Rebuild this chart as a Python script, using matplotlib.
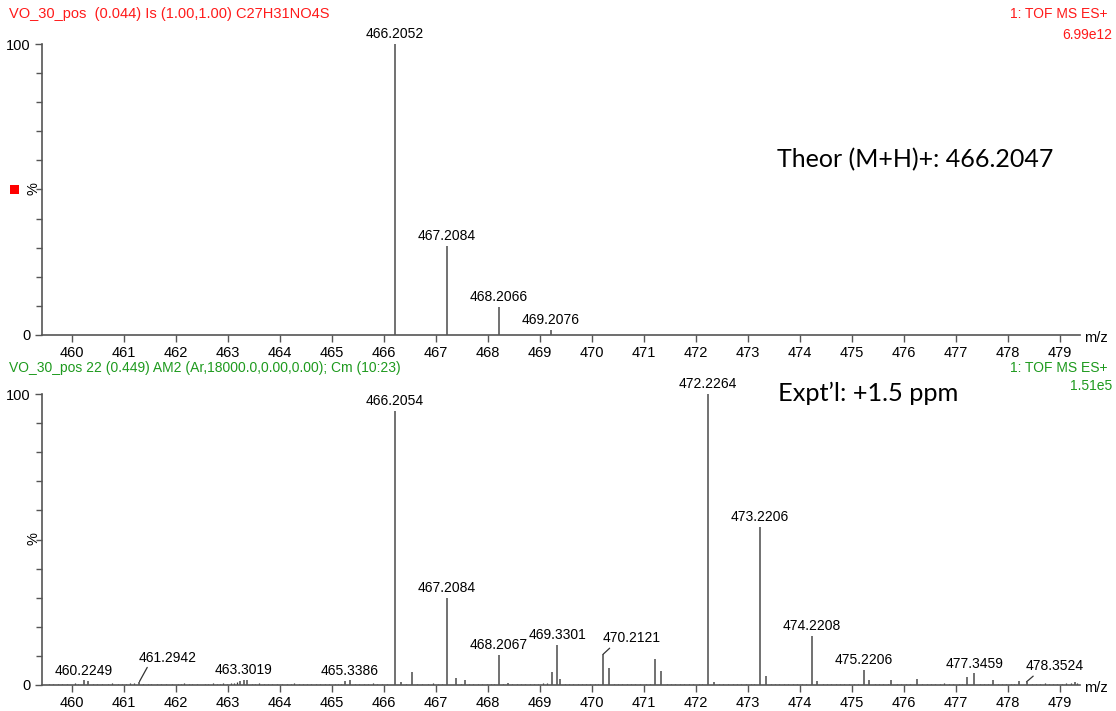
import matplotlib.pyplot as plt

plt.rcParams['font.family'] = ['Liberation Sans', 'DejaVu Sans']

# theoretical isotope pattern
theor_mz = [466.2052, 467.2084, 468.2066, 469.2076]
theor_int = [100.0, 30.6, 9.6, 1.7]

# measured spectrum, labelled centroids
expt_mz = [460.2249, 461.2942, 463.3019, 465.3386, 466.2054, 467.2084, 468.2067,
           469.3301, 470.2121, 472.2264, 473.2206, 474.2208, 475.2206, 477.3459, 478.3524]
expt_int = [1.6, 1.2, 1.8, 1.6, 94.3, 29.9, 10.3, 13.7, 10.6, 100.0, 54.3, 16.8, 5.2, 4.0, 1.1]

# measured spectrum, unlabelled centroids
minor_mz = [460.30, 463.23, 463.37, 465.24, 466.33, 466.54, 467.38, 467.55, 468.38, 469.23,
            469.39, 470.33, 471.21, 471.32, 472.35, 473.35, 474.33, 475.32, 475.75, 476.25,
            477.20, 477.70, 478.20, 479.28]
minor_int = [1.5, 1.5, 1.6, 1.3, 1.1, 4.3, 2.5, 1.7, 0.8, 4.5,
             2.2, 5.8, 9.0, 4.8, 1.1, 3.0, 1.5, 1.8, 1.8, 2.0,
             2.7, 1.6, 1.4, 1.0]

# baseline noise (m/z, %)
grass = [
    (459.55, 0.4), (459.63, 0.3), (459.72, 0.5), (459.80, 0.3), (459.91, 0.4), (460.05, 0.6),
    (460.12, 0.3), (460.41, 0.4), (460.48, 0.3), (460.57, 0.5), (460.69, 0.3), (460.76, 0.8),
    (460.88, 0.4), (460.95, 0.3), (461.04, 0.4), (461.11, 0.6), (461.19, 0.8), (461.37, 0.4),
    (461.45, 0.3), (461.52, 0.5), (461.63, 0.3), (461.71, 0.4), (461.80, 0.3), (461.92, 0.5),
    (462.03, 0.4), (462.09, 0.3), (462.16, 0.6), (462.24, 0.5), (462.31, 0.4), (462.40, 0.3),
    (462.55, 0.5), (462.61, 0.4), (462.70, 0.6), (462.78, 0.5), (462.84, 0.4), (462.91, 0.6),
    (462.97, 0.5), (463.05, 0.8), (463.12, 0.6), (463.17, 0.9), (463.45, 0.5), (463.52, 0.4),
    (463.60, 0.6), (463.68, 0.4), (463.77, 0.3), (463.85, 0.5), (463.93, 0.4), (464.04, 0.3),
    (464.13, 0.5), (464.21, 0.4), (464.27, 0.8), (464.36, 0.4), (464.44, 0.5), (464.51, 0.3),
    (464.60, 0.4), (464.69, 0.3), (464.77, 0.4), (464.86, 0.5), (464.94, 0.3), (465.05, 0.4),
    (465.12, 0.3), (465.17, 0.5), (465.44, 0.4), (465.52, 0.3), (465.61, 0.4), (465.69, 0.5),
    (465.78, 0.6), (465.86, 0.3), (465.95, 0.4), (466.06, 0.3), (466.42, 0.5), (466.64, 0.4),
    (466.72, 0.3), (466.85, 0.4), (466.93, 0.6), (467.03, 0.4), (467.12, 0.3), (467.47, 0.5),
    (467.63, 0.4), (467.71, 0.3), (467.80, 0.5), (467.88, 0.4), (467.97, 0.3), (468.05, 0.4),
    (468.12, 0.3), (468.29, 0.4), (468.46, 0.5), (468.55, 0.4), (468.63, 0.3), (468.71, 0.4),
    (468.80, 0.5), (468.88, 0.3), (468.95, 0.4), (469.06, 0.6), (469.13, 0.8), (469.47, 0.4),
    (469.55, 0.3), (469.63, 0.4), (469.72, 0.3), (469.80, 0.5), (469.88, 0.4), (469.96, 0.3),
    (470.05, 0.4), (470.12, 0.3), (470.42, 0.5), (470.50, 0.3), (470.58, 0.4), (470.66, 0.3),
    (470.75, 0.4), (470.83, 0.5), (470.92, 0.3), (471.04, 0.4), (471.12, 0.3), (471.44, 0.4),
    (471.52, 0.5), (471.60, 0.3), (471.69, 0.4), (471.77, 0.3), (471.86, 0.5), (471.94, 0.4),
    (472.05, 0.3), (472.12, 0.4), (472.44, 0.5), (472.52, 0.3), (472.61, 0.4), (472.70, 0.3),
    (472.78, 0.5), (472.86, 0.4), (472.95, 0.3), (473.05, 0.4), (473.12, 0.3), (473.44, 0.4),
    (473.52, 0.3), (473.60, 0.5), (473.69, 0.3), (473.77, 0.4), (473.86, 0.3), (473.94, 0.4),
    (474.04, 0.3), (474.12, 0.4), (474.43, 0.5), (474.51, 0.3), (474.60, 0.4), (474.68, 0.3),
    (474.77, 0.5), (474.85, 0.4), (474.94, 0.3), (475.04, 0.4), (475.12, 0.3), (475.43, 0.5),
    (475.52, 0.3), (475.60, 0.4), (475.68, 0.3), (475.86, 0.4), (475.94, 0.3), (476.04, 0.4),
    (476.12, 0.3), (476.35, 0.5), (476.44, 0.3), (476.52, 0.4), (476.60, 0.3), (476.68, 0.4),
    (476.77, 0.8), (476.86, 0.4), (476.94, 0.3), (477.05, 0.4), (477.12, 0.3), (477.45, 0.5),
    (477.53, 0.4), (477.61, 0.3), (477.80, 0.4), (477.88, 0.3), (477.96, 0.5), (478.05, 0.3),
    (478.12, 0.4), (478.45, 0.5), (478.53, 0.3), (478.61, 0.4), (478.70, 0.8), (478.78, 0.4),
    (478.86, 0.3), (478.94, 0.5), (479.04, 0.4), (479.12, 0.6), (479.20, 0.8), (479.33, 0.6),
]

# labels that sit beside their peak, joined by a leader line (label x, label y)
leader_pos = {461.2942: (461.83, 7.0), 470.2121: (470.75, 13.6), 478.3524: (478.90, 4.0)}

RED = '#ff1a1a'
GREEN = '#1e9a1e'
STICK = '#4a4a4a'
XMIN, XMAX = 459.42, 479.38

fig = plt.figure(figsize=(11.16, 7.11), dpi=100)
W, H = 1116, 711
ax_top = fig.add_axes([42 / W, 1 - 335 / H, (1080 - 42) / W, (335 - 44) / H])
ax_bot = fig.add_axes([42 / W, 1 - 685 / H, (1080 - 42) / W, (685 - 394) / H])


def style_axis(ax, y_mid):
    ax.set_xlim(XMIN, XMAX)
    ax.set_ylim(0, 100)
    for s in ['top', 'right']:
        ax.spines[s].set_visible(False)
    for s in ['left', 'bottom']:
        ax.spines[s].set_color('#555555')
        ax.spines[s].set_linewidth(1.2)
    ax.set_xticks(range(460, 480))
    ax.set_yticks([0, 100])
    ax.set_yticks(range(10, 100, 10), minor=True)
    ax.tick_params(axis='both', which='major', direction='out', length=5, width=1,
                   color='#555555', labelsize=10.5, pad=3)
    ax.tick_params(axis='y', which='minor', direction='out', length=4, width=1, color='#555555')
    ax.text(1.004, -0.012, 'm/z', transform=ax.transAxes, fontsize=10.5, ha='left', va='center')
    fig.text(33 / W, 1 - y_mid / H, '%', rotation=90, fontsize=10.5, ha='center', va='center')


def label_peak(ax, mz, inten):
    if mz in leader_pos:
        lx, ly = leader_pos[mz]
        ax.annotate(f'{mz:.4f}', xy=(mz, inten), xytext=(lx, ly), ha='center', va='bottom',
                    fontsize=10, annotation_clip=False,
                    arrowprops=dict(arrowstyle='-', color='#333333', lw=0.9,
                                    shrinkA=0, shrinkB=0,
                                    relpos=(0.18, 0.0)))
    else:
        ax.annotate(f'{mz:.4f}', xy=(mz, inten), xytext=(0, 2), textcoords='offset points',
                    ha='center', va='bottom', fontsize=10, annotation_clip=False)


# top: theoretical isotope pattern
style_axis(ax_top, 189)
ax_top.vlines(theor_mz, 0, theor_int, color=STICK, lw=1.1)
for mz, inten in zip(theor_mz, theor_int):
    label_peak(ax_top, mz, inten)

# bottom: measured spectrum
style_axis(ax_bot, 539)
gm = [g[0] for g in grass]
gi = [g[1] for g in grass]
ax_bot.vlines(gm, 0, gi, color='#333333', lw=0.9)
ax_bot.vlines(minor_mz, 0, minor_int, color=STICK, lw=1.1)
ax_bot.vlines(expt_mz, 0, expt_int, color=STICK, lw=1.1)
for mz, inten in zip(expt_mz, expt_int):
    label_peak(ax_bot, mz, inten)

# header lines
fig.text(9 / W, 1 - 14 / H, 'VO_30_pos  (0.044) Is (1.00,1.00) C27H31NO4S',
         color=RED, fontsize=10.5, va='center', ha='left')
fig.text(1108 / W, 1 - 14 / H, '1: TOF MS ES+', color=RED, fontsize=10, va='center', ha='right')
fig.text(1112 / W, 1 - 35 / H, '6.99e12', color=RED, fontsize=10, va='center', ha='right')

fig.text(9 / W, 1 - 368 / H, 'VO_30_pos 22 (0.449) AM2 (Ar,18000.0,0.00,0.00); Cm (10:23)',
         color=GREEN, fontsize=10, va='center', ha='left')
fig.text(1108 / W, 1 - 368 / H, '1: TOF MS ES+', color=GREEN, fontsize=10, va='center', ha='right')
fig.text(1112 / W, 1 - 386 / H, '1.51e5', color=GREEN, fontsize=10, va='center', ha='right')

# red marker next to the top trace
fig.patches.append(plt.Rectangle((10 / W, 1 - 194 / H), 9 / W, 9 / H, transform=fig.transFigure,
                                 facecolor='#ff0000', edgecolor='none'))

# annotations
fig.text(777 / W, 1 - 160 / H, 'Theor (M+H)+: 466.2047', fontsize=18, family='Lato',
         va='center', ha='left')
fig.text(778 / W, 1 - 393 / H, 'Expt\u2019l: +1.5 ppm', fontsize=18.3, family='Lato',
         va='center', ha='left')

fig.savefig('out.png', dpi=100)
